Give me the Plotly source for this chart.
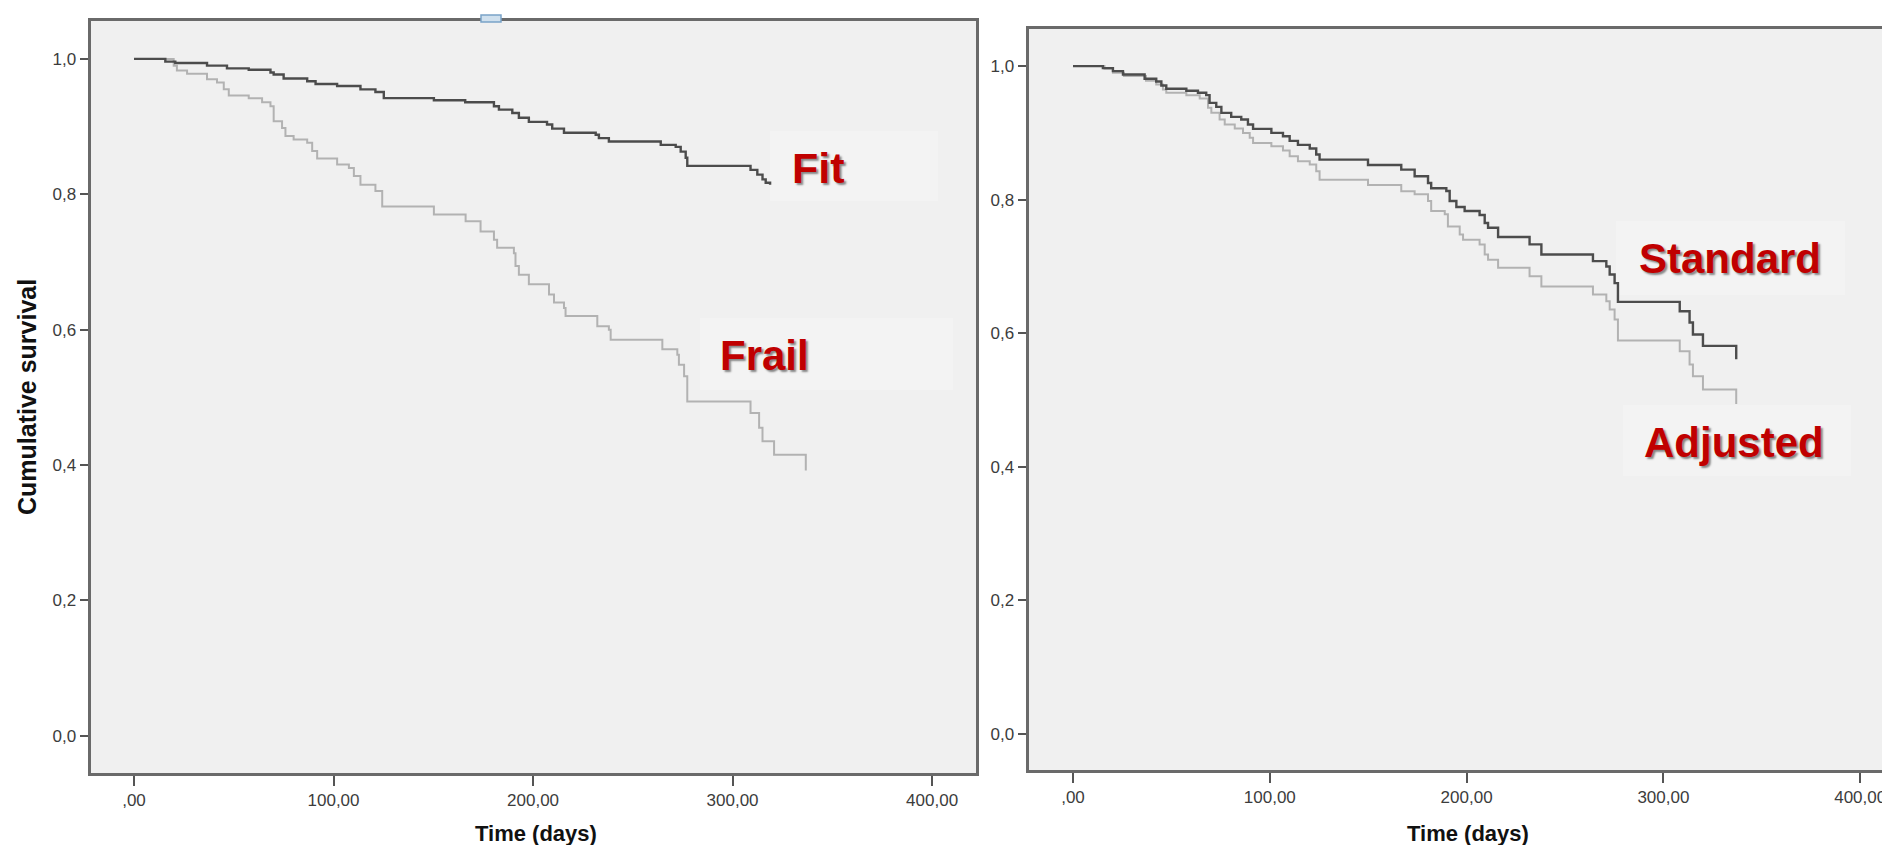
import plotly.graph_objects as go

W, H = 1890, 845

# ---------------- data ----------------
fit_t = [0, 15.7, 20.7, 36.6, 46.6, 57.5, 68.4, 70, 75, 86.8, 91, 101.8, 113.5, 121, 125.2,
         150.3, 166, 180.4, 182.9, 189.6, 192.9, 197.9, 207, 209.6, 215.5, 231.4, 233, 238,
         264, 271.5, 274, 276.5, 277.3, 309, 312.4, 315, 316.6, 318.8]
fit_s = [1.0, .996, .994, .990, .986, .984, .980, .977, .971, .967, .963, .960, .955, .951, .942,
         .939, .936, .930, .925, .920, .913, .907, .903, .897, .891, .888, .883, .878,
         .873, .870, .863, .854, .842, .836, .829, .822, .817, .814]

frail_t = [0, 19.9, 21.5, 26.6, 36.6, 41.6, 45, 47.5, 57.5, 64.2, 68.4, 70, 74.2, 75.9, 80,
           86.8, 89.3, 91.8, 101.8, 107.7, 110.2, 113.5, 121, 124.4, 150.3, 166.2, 173.7,
           180.4, 182, 190.4, 191.2, 192.9, 197.9, 208, 210.5, 215.5, 216.3, 232.2, 238,
           238.9, 264.8, 272.3, 273.1, 275.7, 277.3, 309, 313.3, 315, 320.8, 336.7]
frail_s = [1.0, .990, .983, .978, .970, .965, .955, .946, .942, .936, .930, .908, .898, .886, .881,
           .876, .864, .853, .844, .839, .827, .814, .805, .782, .770, .760, .745,
           .733, .721, .713, .694, .681, .667, .652, .640, .632, .620, .605, .600,
           .585, .571, .563, .548, .531, .494, .477, .455, .435, .415, .392]

std_t = [0, 15.2, 20.3, 25.4, 36.4, 42.3, 44.9, 47.4, 57.6, 63.5, 67.7, 69.4, 72.8, 75.4, 80.4,
         85.5, 88.9, 91.5, 100.8, 106.7, 110.1, 114.3, 120.3, 123.6, 125.3, 149.9, 166.8,
         173.6, 180.4, 182, 189.7, 191.4, 194.8, 199, 206.6, 209.2, 210.9, 216, 232, 238,
         264.2, 271, 272.7, 275.2, 276.9, 308.3, 313.3, 315, 320.1, 337]
std_s = [1.0, .997, .9925, .9875, .981, .977, .971, .966, .963, .960, .9565, .945, .939, .930, .924,
         .920, .9125, .906, .900, .895, .888, .882, .8766, .8676, .860, .852, .845,
         .835, .825, .817, .813, .798, .789, .783, .777, .765, .758, .744, .733, .718,
         .708, .700, .688, .675, .647, .633, .616, .598, .581, .561]

adj_t = [0, 16, 20.3, 25.9, 37.1, 42.3, 45.7, 47.4, 57.6, 64.4, 68.6, 70.3, 74.5, 77.1, 82.2,
         86.4, 89.8, 91.5, 100.8, 106.7, 110.1, 114.3, 120.3, 123.6, 125.3, 149.9, 166.8,
         173.6, 180.4, 182, 188.9, 190.5, 196.5, 198.2, 206.6, 209.2, 210.9, 216, 232, 238,
         264.2, 271, 272.7, 275.2, 276.9, 308.3, 313.3, 315, 320.1, 337]
adj_s = [1.0, .996, .990, .985, .978, .9725, .965, .960, .9565, .9515, .9375, .930, .920, .9125, .9066,
         .900, .8926, .885, .880, .8736, .865, .8576, .8526, .8426, .830, .822, .8126,
         .808, .798, .783, .778, .760, .748, .740, .733, .718, .710, .698, .6855, .670,
         .658, .648, .6355, .6205, .589, .573, .553, .5355, .5157, .494]

x_tickvals = [0, 100, 200, 300, 400]
x_ticktext = [",00", "100,00", "200,00", "300,00", "400,00"]
y_tickvals = [0, 0.2, 0.4, 0.6, 0.8, 1.0]
y_ticktext = ["0,0", "0,2", "0,4", "0,6", "0,8", "1,0"]

labels = ["Fit", "Frail", "Standard", "Adjusted"]

# ---------------- helpers for pixel placement ----------------
def px(x):
    return x / W

def py(y):
    return 1 - y / H

DARK = "#4c4c4c"
LIGHT = "#b2b2b2"
RED = "#c00000"
FRAME = "#6a6a6a"
TICKFONT = dict(family="Liberation Sans, Arial, sans-serif", size=17, color="#3c3c3c")
TITLEFONT = dict(family="Liberation Sans, Arial, sans-serif", color="#111111", weight="bold")

fig = go.Figure()
fig.add_trace(go.Scatter(x=frail_t, y=frail_s, mode="lines", xaxis="x", yaxis="y",
                         line=dict(shape="hv", color=LIGHT, width=2), hoverinfo="skip"))
fig.add_trace(go.Scatter(x=fit_t, y=fit_s, mode="lines", xaxis="x", yaxis="y",
                         line=dict(shape="hv", color=DARK, width=2.4), hoverinfo="skip"))
fig.add_trace(go.Scatter(x=adj_t, y=adj_s, mode="lines", xaxis="x2", yaxis="y2",
                         line=dict(shape="hv", color=LIGHT, width=2), hoverinfo="skip"))
fig.add_trace(go.Scatter(x=std_t, y=std_s, mode="lines", xaxis="x2", yaxis="y2",
                         line=dict(shape="hv", color=DARK, width=2.4), hoverinfo="skip"))

common_x = dict(showline=True, linecolor=FRAME, linewidth=3, ticks="outside", ticklen=10,
                tickwidth=1.5, tickcolor="#555555", tickvals=x_tickvals, ticktext=x_ticktext,
                showgrid=False, zeroline=False, tickfont=TICKFONT, fixedrange=True)
common_y = dict(showline=True, linecolor=FRAME, linewidth=3, ticks="outside", ticklen=8,
                tickwidth=1.5, tickcolor="#555555", tickvals=y_tickvals, ticktext=y_ticktext,
                showgrid=False, zeroline=False, tickfont=TICKFONT, fixedrange=True)

fig.update_layout(
    width=W, height=H,
    margin=dict(l=0, r=0, t=0, b=0),
    paper_bgcolor="white",
    plot_bgcolor="#f0f0f0",
    showlegend=False,
    xaxis=dict(domain=[px(82.5), px(968)], range=[-21.8, 422], anchor="y", mirror=True, **common_x),
    yaxis=dict(domain=[py(765), py(13)], range=[-0.055, 1.056], anchor="x", mirror=True, **common_y),
    xaxis2=dict(domain=[px(1020.5), 1.0], range=[-22.6, 419.2], anchor="y2", mirror=True, **common_x),
    yaxis2=dict(domain=[py(762), py(20.7)], range=[-0.054, 1.056], anchor="x2", mirror=False, **common_y),
)

# label boxes (subtle lighter rectangles)
boxes = [(762, 123, 930, 193), (692, 310, 945, 382), (1608, 213, 1837, 287), (1615, 397, 1843, 468)]
for (x0, y0, x1, y1) in boxes:
    fig.add_shape(type="rect", xref="paper", yref="paper", x0=px(x0), x1=px(x1), y0=py(y1), y1=py(y0),
                  fillcolor="#f3f3f3", line=dict(width=0), layer="below")

# small blue artefact on top frame
fig.add_shape(type="rect", xref="paper", yref="paper", x0=px(473), x1=px(493), y0=py(14), y1=py(7),
              fillcolor="#cfe0ee", line=dict(color="#7aa3c8", width=1.5))

label_pos = [(810, 160, 43), (756.5, 347, 42), (1721.5, 251, 42), (1726, 434, 42)]
for txt, (cx, cy, fs) in zip(labels, label_pos):
    fig.add_annotation(text=txt, xref="paper", yref="paper", x=px(cx), y=py(cy),
                       xanchor="center", yanchor="middle", showarrow=False,
                       font=dict(family="Liberation Sans, Arial, sans-serif", size=fs, color=RED,
                                 weight="bold", shadow="2px 2px 2px rgba(0,0,0,0.45)"))

# axis titles
fig.add_annotation(text="Cumulative survival", xref="paper", yref="paper", x=px(19), y=py(389),
                   textangle=-90, showarrow=False, xanchor="center", yanchor="middle",
                   font=dict(size=25, **TITLEFONT))
for cx in (527.5, 1460):
    fig.add_annotation(text="Time (days)", xref="paper", yref="paper", x=px(cx), y=py(825),
                       showarrow=False, xanchor="center", yanchor="middle",
                       font=dict(size=22, **TITLEFONT))

fig.write_html("out.html")
